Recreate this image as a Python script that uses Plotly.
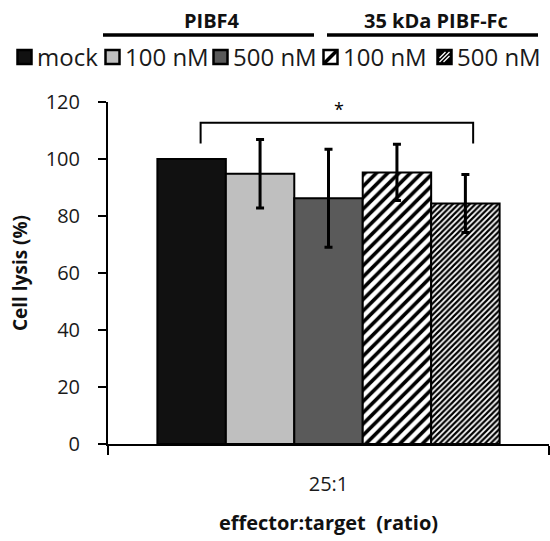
import plotly.graph_objects as go

# ---- data ----
category = ["25:1"]
series_names = ["mock", "100 nM", "500 nM", "100 nM ", "500 nM "]
legend_labels = ["mock", "100 nM", "500 nM", "100 nM", "500 nM"]
values = [100.0, 94.8, 86.2, 95.3, 84.4]
errors = [0.0, 12.0, 17.2, 9.9, 10.2]
group_labels = ["PIBF4", "35 kDa PIBF-Fc"]
y_ticks = [0, 20, 40, 60, 80, 100, 120]
sig_label = "*"

# ---- styles ----
fills = ["#111111", "#bfbfbf", "#5a5a5a", "white", "white"]
patterns = [
    dict(shape=""),
    dict(shape=""),
    dict(shape=""),
    dict(shape="/", size=8, solidity=0.45, fgcolor="black", bgcolor="white", fgopacity=1),
    dict(shape="/", size=4, solidity=0.55, fgcolor="black", bgcolor="white", fgopacity=1),
]
FONT = "Open Sans"

W, H = 550, 541
ML, MR, MT, MB = 108, 1, 102, 97
PW, PH = W - ML - MR, H - MT - MB


def xp(px):
    return (px - ML) / PW


def yp(py):
    return (H - MB - py) / PH


fig = go.Figure()
for i, name in enumerate(series_names):
    fig.add_trace(go.Bar(
        x=category, y=[values[i]], name=name,
        marker=dict(color=fills[i], line=dict(color="black", width=2), pattern=patterns[i]),
        error_y=dict(type="data", array=[errors[i]], visible=errors[i] > 0,
                     color="black", thickness=3, width=4),
        showlegend=False,
    ))

shapes = []
annotations = []

# significance bracket (data coords along the category axis)
bx0, bx1, by0, by1 = -0.29, 0.328, 105.4, 112.7
shapes.append(dict(type="path", xref="x", yref="y",
                   path=f"M {bx0},{by0} L {bx0},{by1} L {bx1},{by1} L {bx1},{by0}",
                   line=dict(color="black", width=2)))
annotations.append(dict(x=(bx0 + bx1) / 2 + 0.004, y=by1, xref="x", yref="y",
                        text=sig_label, showarrow=False, xanchor="center", yanchor="bottom",
                        font=dict(family=FONT, size=18, color="black")))

# legend (manual)
sw = 16
box_left = [16.5, 104.5, 212.5, 322.5, 436.5]
ly = 57
for i in range(5):
    x0, x1 = box_left[i], box_left[i] + sw
    y0, y1 = ly - sw / 2, ly + sw / 2
    fillc = fills[i] if i < 4 else "black"
    if i == 3:
        fillc = "white"
    shapes.append(dict(type="rect", xref="paper", yref="paper",
                       x0=xp(x0 + 1), x1=xp(x1 - 1), y0=yp(y1 - 1), y1=yp(y0 + 1),
                       fillcolor=fillc, line=dict(color="black", width=2.5)))
    if i == 3:
        shapes.append(dict(type="line", xref="paper", yref="paper",
                           x0=xp(x0 + 2), y0=yp(y1 - 2), x1=xp(x1 - 2), y1=yp(y0 + 2),
                           line=dict(color="black", width=3.5)))
    if i == 4:
        for k in (-4, 0, 4):
            shapes.append(dict(type="line", xref="paper", yref="paper",
                               x0=xp(x0 + 3 + max(0, k)), y0=yp(y1 - 3 + min(0, k)),
                               x1=xp(x1 - 3 + min(0, k)), y1=yp(y0 + 3 + max(0, k)),
                               line=dict(color="white", width=1.3)))
    annotations.append(dict(x=xp(x1 + 2), y=yp(ly - 0.5), xref="paper", yref="paper",
                            text=legend_labels[i], showarrow=False, xanchor="left",
                            yanchor="middle", font=dict(family=FONT, size=24, color="#1a1a1a")))

# group headers
grp_lines = [(103, 314), (327, 538)]
for (a, b), lab in zip(grp_lines, group_labels):
    shapes.append(dict(type="line", xref="paper", yref="paper",
                       x0=xp(a), x1=xp(b), y0=yp(35), y1=yp(35),
                       line=dict(color="black", width=3.5)))
    annotations.append(dict(x=xp((a + b) / 2 + 3), y=yp(21), xref="paper", yref="paper",
                            text=f"<b>{lab}</b>", showarrow=False,
                            xanchor="center", yanchor="middle",
                            font=dict(family=FONT, size=20, color="#111")))

fig.update_layout(
    width=W, height=H,
    margin=dict(l=ML, r=MR, t=MT, b=MB, autoexpand=False),
    paper_bgcolor="white", plot_bgcolor="white",
    barmode="group", bargap=0.224, bargroupgap=0,
    font=dict(family=FONT, color="#1a1a1a"),
    shapes=shapes, annotations=annotations,
    xaxis=dict(
        type="category", showline=True, linecolor="black", linewidth=2,
        ticks="outside", tickson="boundaries", ticklen=9, tickwidth=2, tickcolor="black",
        tickfont=dict(family=FONT, size=20, color="#1a1a1a"), ticklabelstandoff=21,
        showgrid=False, zeroline=False,
        title=dict(text="<b>effector:target\u00a0\u00a0(ratio)</b>",
                   font=dict(family=FONT, size=20, color="#111"), standoff=20),
    ),
    yaxis=dict(
        range=[0, 120], tickvals=y_ticks, showline=True, linecolor="black", linewidth=2,
        ticks="outside", ticklen=8, tickwidth=2, tickcolor="black",
        tickfont=dict(family=FONT, size=20, color="#1a1a1a"), ticklabelstandoff=14,
        showgrid=False, zeroline=False,
        title=dict(text="<b>Cell lysis (%)</b>",
                   font=dict(family=FONT, size=19, color="#111"), standoff=13),
    ),
)

fig.write_html("out.html")
